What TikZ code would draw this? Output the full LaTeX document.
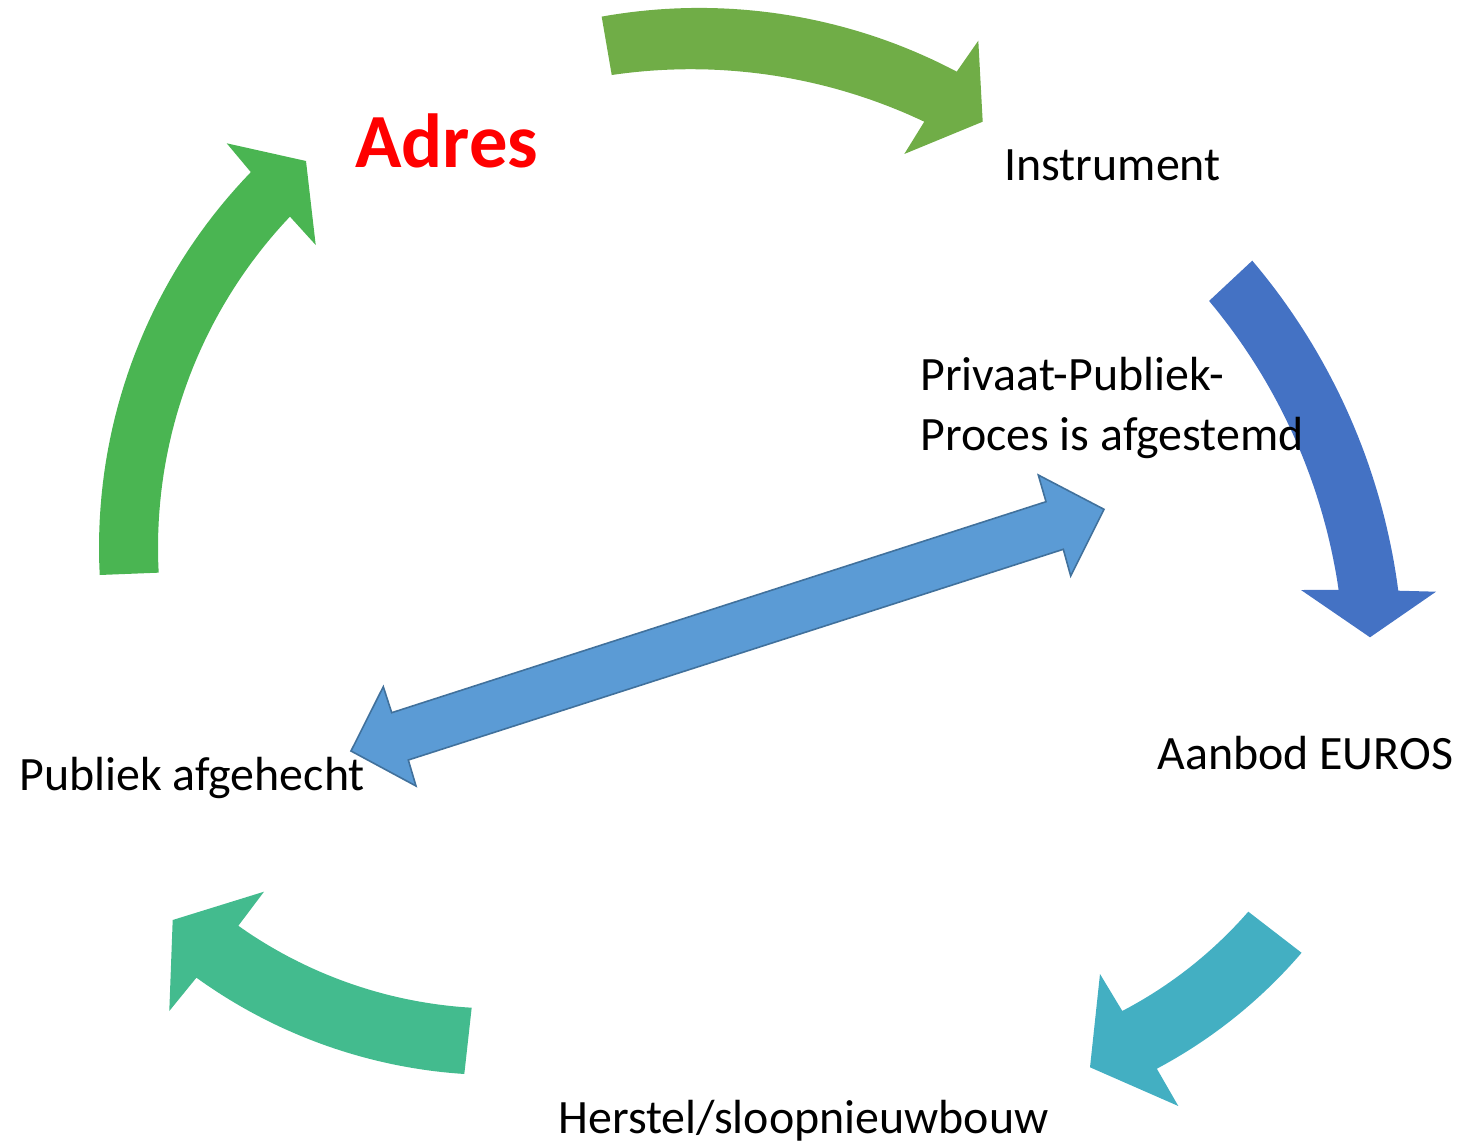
\documentclass[tikz,border=0pt]{standalone}
\usepackage{fontspec}
\setmainfont{Carlito}
\definecolor{topgreen}{HTML}{70AD47}
\definecolor{leftgreen}{HTML}{4AB552}
\definecolor{botgreen}{HTML}{43BB8E}
\definecolor{tealc}{HTML}{43AFC2}
\definecolor{darkblue}{HTML}{4472C4}
\definecolor{dfill}{HTML}{5B9BD5}
\definecolor{dline}{HTML}{41719C}
\begin{document}
\begin{tikzpicture}[x=0.5pt,y=-0.5pt,
  lbl/.style={inner sep=0pt, anchor=base west, font=\fontsize{23.95}{29}\selectfont},
  redlbl/.style={inner sep=0pt, anchor=base west, text=red, font=\fontsize{38.3}{45}\selectfont\bfseries},
  arcp/.style={samples=40, variable=\t}]
\useasboundingbox (0,0) rectangle (1462,1145);

% top arrow
\fill[topgreen] plot[arcp, domain=259.81:297.8] ({699.3+552*cos(\t)},{559.9+552*sin(\t)})
  -- (978.3,40.7) -- (982.7,121.7) -- (904.3,154)
  -- plot[arcp, domain=295.34:261.65] ({690.9+545.3*cos(\t)},{614.5+545.3*sin(\t)}) -- cycle;

% right arrow
\fill[darkblue] plot[arcp, domain=-40.28:-7.45] ({765.1+638.6*cos(\t)},{673.5+638.6*sin(\t)})
  -- (1436,591.7) -- (1370,637.3) -- (1301,590)
  -- plot[arcp, domain=-8.29:-40.0] ({765.1+579.6*cos(\t)},{673.5+579.6*sin(\t)}) -- cycle;

% bottom right arrow
\fill[tealc] plot[arcp, domain=41.07:62.45] ({922.3+432.4*cos(\t)},{627.6+432.4*sin(\t)})
  -- (1100,974) -- (1090,1067.3) -- (1178.3,1106)
  -- plot[arcp, domain=62.0:40.61] ({922.3+499.6*cos(\t)},{627.6+499.6*sin(\t)}) -- cycle;

% bottom left arrow
\fill[botgreen] plot[arcp, domain=93.34:125.36] ({497.8+448.4*cos(\t)},{560.1+448.4*sin(\t)})
  -- (264,891.7) -- (172.7,920) -- (169.3,1011)
  -- plot[arcp, domain=125.82:93.73] ({497.8+515*cos(\t)},{560.1+515*sin(\t)}) -- cycle;

% left arrow
\fill[leftgreen] plot[arcp, domain=177.08:224.04] ({639+540*cos(\t)},{547.5+540*sin(\t)})
  -- (226.7,143.3) -- (306,161) -- (315.7,245)
  -- plot[arcp, domain=223.47:177.0] ({639+481*cos(\t)},{547.5+481*sin(\t)}) -- cycle;

% double arrow
\filldraw[fill=dfill, draw=dline, line width=0.8pt, line join=miter]
  (351,751) -- (383.3,686.7) -- (391.7,712.7) -- (1046,501.7) -- (1038.3,475)
  -- (1104,509.3) -- (1070.7,576) -- (1063.3,549.3) -- (408.3,760) -- (416,786) -- cycle;

% labels
\node[redlbl] (adres) at (355,168) {Adres};
\node[lbl] (instr) at (1004,180) {Instrument};
\node[lbl] (pp1) at (920,390) {Privaat-Publiek-};
\node[lbl] (pp2) at (920,450) {Proces is afgestemd};
\node[lbl] (aanbod) at (1157,769) {Aanbod EUROS};
\node[lbl] (publiek) at (19,790) {Publiek afgehecht};
\node[lbl] (herstel) at (558,1133) {Herstel/sloopnieuwbouw};
\end{tikzpicture}
\end{document}
